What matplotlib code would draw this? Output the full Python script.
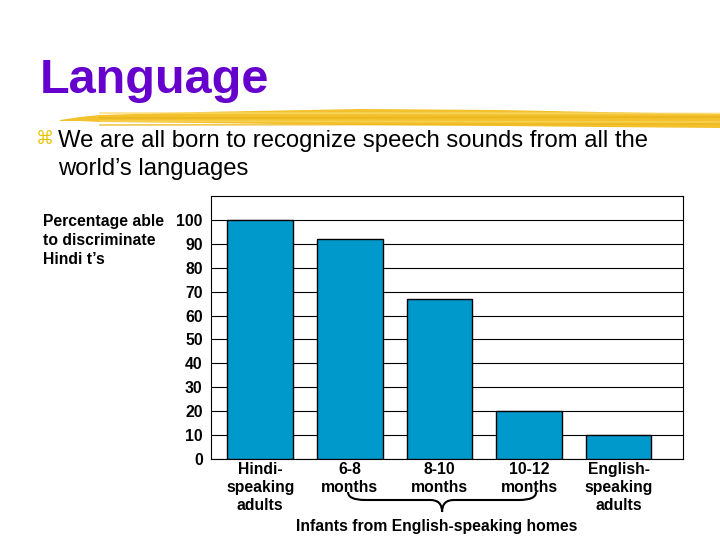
import numpy as np
import matplotlib
matplotlib.use("Agg")
from matplotlib import pyplot as plt
from matplotlib.patches import Polygon, PathPatch
from matplotlib.path import Path
import matplotlib.transforms as mtransforms

# dados do grafico
grupos = ["Hindi-\nspeaking\nadults", "6-8\nmonths", "8-10\nmonths", "10-12\nmonths", "English-\nspeaking\nadults"]
percentuais = [100, 92, 67, 20, 10]
yticks = [0, 10, 20, 30, 40, 50, 60, 70, 80, 90, 100]
infantes = [1, 3]  # indices dos grupos de bebes (chave)

titulo = "Language"
bullet_l1 = "We are all born to recognize speech sounds from all the"
bullet_l2 = "world\u2019s languages"
ylabel = "Percentage able\nto discriminate\nHindi t\u2019s"
chave_texto = "Infants from English-speaking homes"

plt.rcParams['font.family'] = ['Liberation Sans', 'DejaVu Sans']

W, H = 720, 540
fig = plt.figure(figsize=(7.2, 5.4), dpi=100)


def px(x, y):
    return (x / W, 1 - y / H)


# pincelada amarela embaixo do titulo
topo = [(60, 120), (80, 117), (100, 115), (200, 112), (360, 109), (500, 110), (600, 112), (720, 114)]
base = [(720, 128), (600, 127), (500, 126), (360, 125), (200, 123), (100, 122), (80, 121), (60, 121)]
pts = [px(x, y) for x, y in topo + base]
fig.patches.append(Polygon(pts, closed=True, transform=fig.transFigure,
                           facecolor="#F3C12B", edgecolor="none", zorder=0))
for (y0, y1, c) in [(113, 113.5, "#F9DA6E"), (118, 117, "#E9B31C"), (121, 122, "#F8D45A"), (125, 124, "#EDB923")]:
    fig.lines.append(plt.Line2D([100 / W, 1.0], [1 - y0 / H, 1 - y1 / H], transform=fig.transFigure,
                                color=c, lw=1.2, alpha=0.8))

fig.text(40 / W, 1 - 93 / H, titulo, color="#6600CC", fontsize=35, fontweight="bold",
         ha="left", va="baseline")

fig.text(45 / W, 1 - 139 / H, "\u2318", color="#E8C200", fontsize=13, family=["DejaVu Sans"],
         ha="center", va="center")
fig.text(58 / W, 1 - 147 / H, bullet_l1, fontsize=17.2, color="black", ha="left", va="baseline")
fig.text(58 / W, 1 - 175 / H, bullet_l2, fontsize=17.2, color="black", ha="left", va="baseline")

# eixo do grafico
ax = fig.add_axes([211 / W, 1 - 459 / H, (683 - 211) / W, (459 - 196) / H])
x = np.arange(len(grupos))
ax.bar(x, percentuais, width=0.733, color="#0099CC", edgecolor="black", linewidth=1, zorder=3)
ax.set_ylim(0, 110)
ax.set_xlim(-0.55, 4.72)
ax.set_yticks(yticks)
ax.set_yticklabels([str(v) for v in yticks], fontsize=11.3, fontweight="bold")
ax.set_xticks(x)
ax.set_xticklabels(grupos, fontsize=11.3, fontweight="bold", linespacing=1.28)
ax.tick_params(axis="both", length=0)
ax.tick_params(axis="y", pad=6)
ax.tick_params(axis="x", pad=2)
ax.grid(axis="y", color="black", linewidth=0.8, zorder=0)
for s in ax.spines.values():
    s.set_color("black")
    s.set_linewidth(0.8)

fig.text(43 / W, 1 - 214 / H, ylabel, fontsize=11.3, fontweight="bold", ha="left", va="top",
         linespacing=1.33)

# chave embaixo dos bebes
trans = mtransforms.blended_transform_factory(ax.transData, fig.transFigure)
x0 = infantes[0] - 0.02
x1 = infantes[1] + 0.08
xm = (x0 + x1) / 2
ya, yb, yc = 1 - 492 / H, 1 - 500 / H, 1 - 512 / H
d = 0.19
verts = [(x0, ya), (x0, yb), (x0 + d, yb),
         (xm - 0.13, yb),
         (xm, yb), (xm, yc),
         (xm, yb), (xm + 0.13, yb),
         (x1 - d, yb),
         (x1, yb), (x1, ya)]
codes = [Path.MOVETO, Path.CURVE3, Path.CURVE3,
         Path.LINETO,
         Path.CURVE3, Path.CURVE3,
         Path.CURVE3, Path.CURVE3,
         Path.LINETO,
         Path.CURVE3, Path.CURVE3]
fig.patches.append(PathPatch(Path(verts, codes), transform=trans, facecolor="none",
                             edgecolor="black", linewidth=1.5))
fig.text(437 / W, 1 - 526 / H, chave_texto, fontsize=11.3, fontweight="bold",
         ha="center", va="center")

fig.savefig("out.png", dpi=100)
